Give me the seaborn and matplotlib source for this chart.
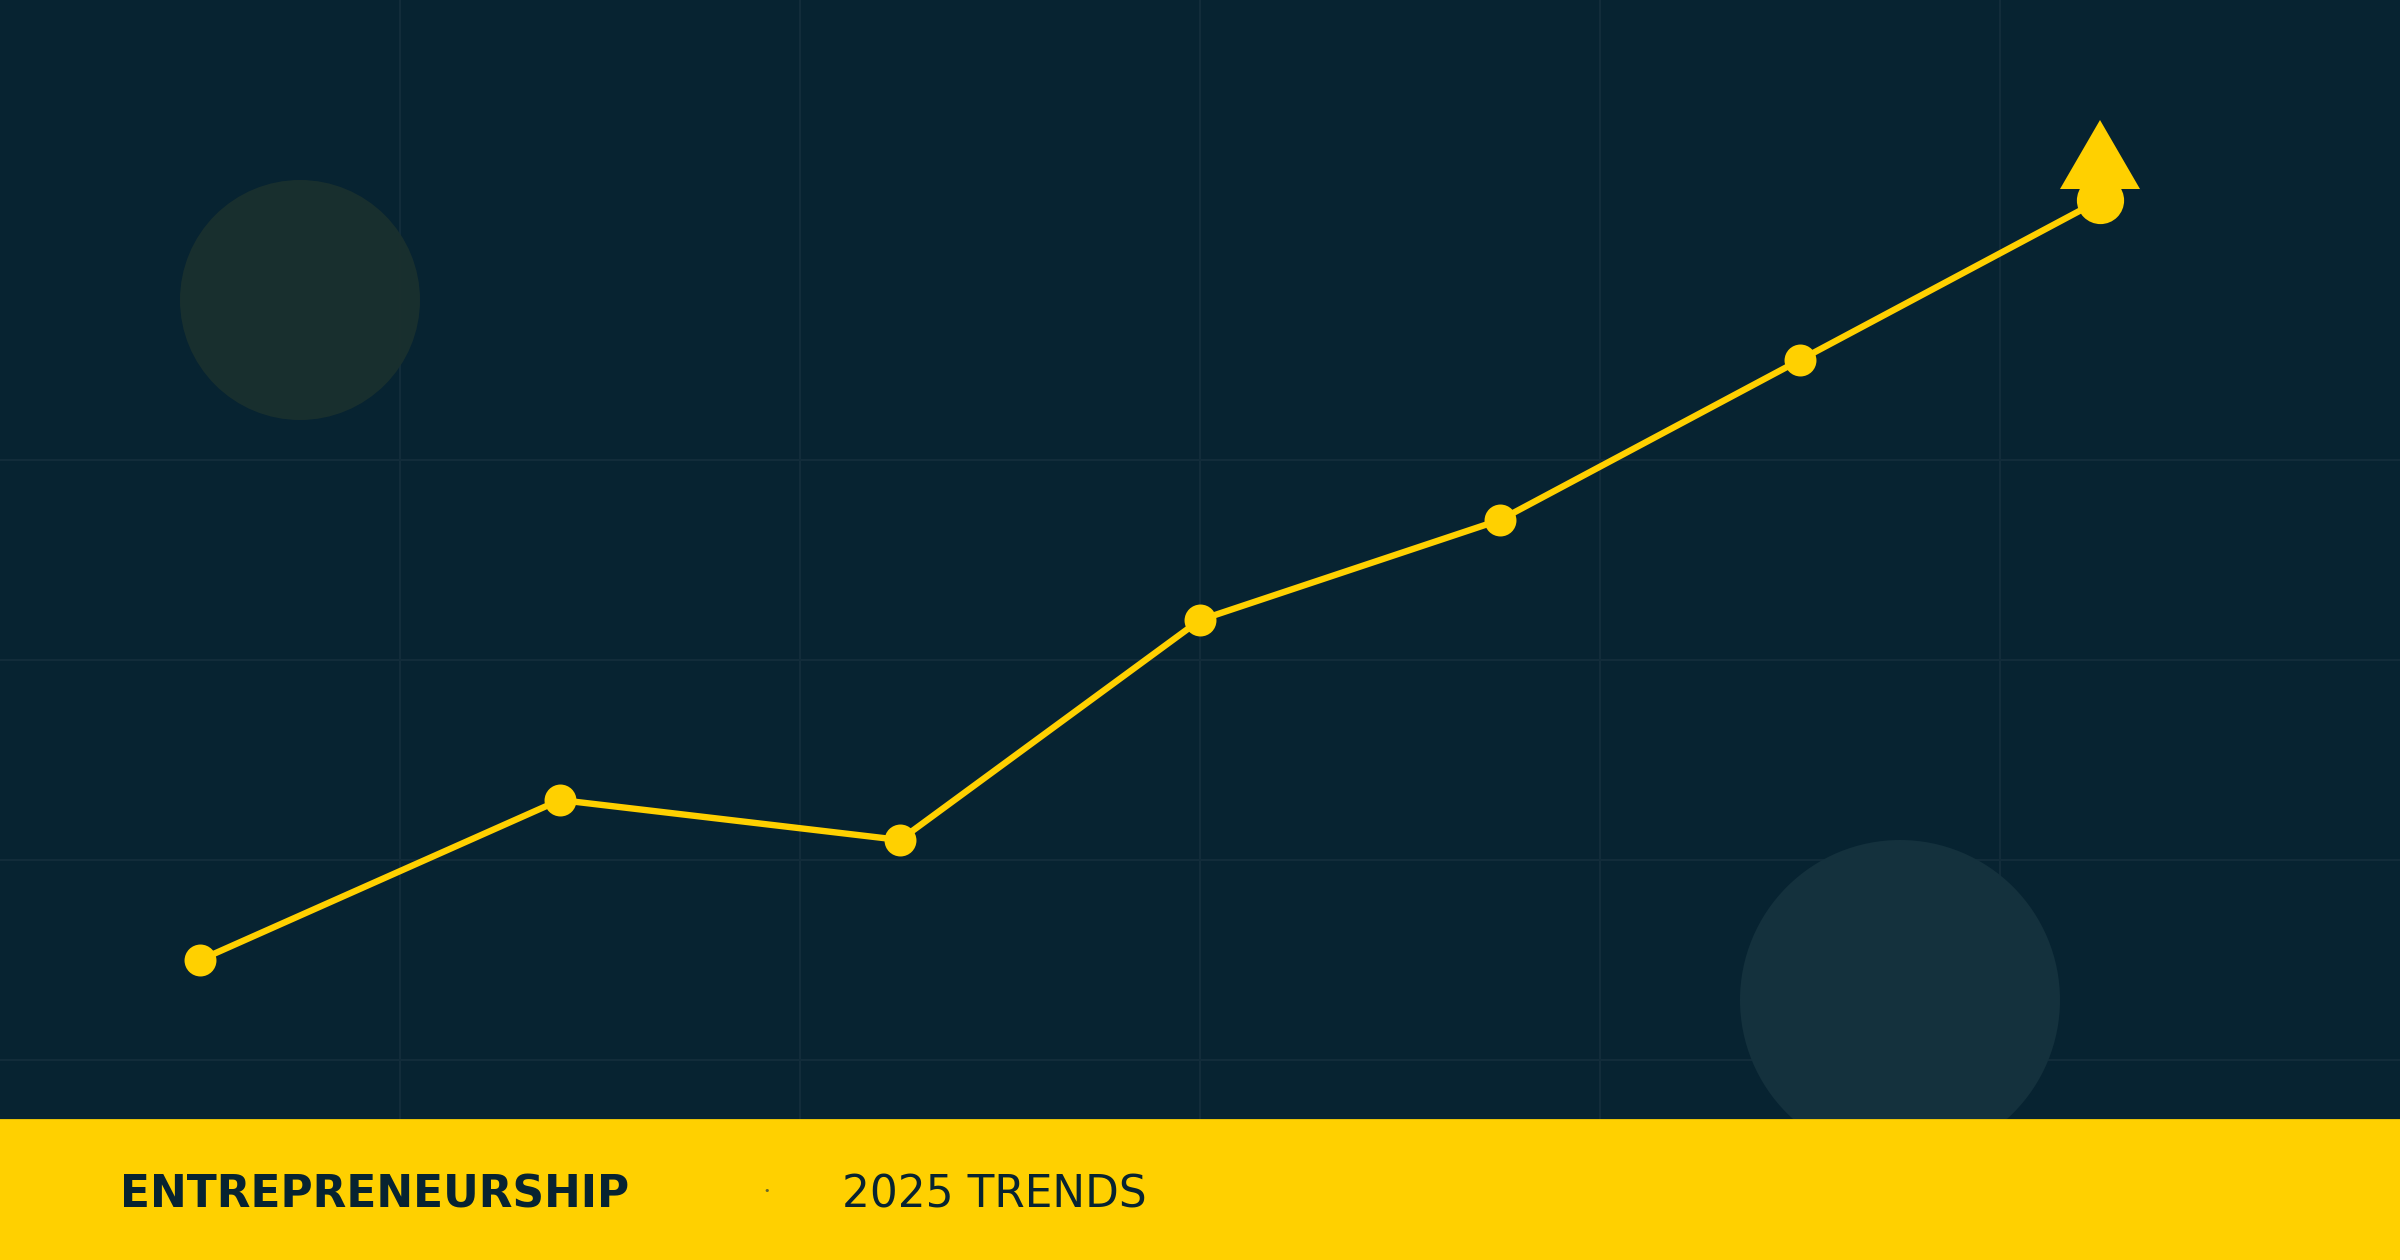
import numpy as np
import pandas as pd
import matplotlib
matplotlib.use('Agg')
import matplotlib.pyplot as plt
import seaborn as sns
from matplotlib.patches import Ellipse, Polygon

# Data (x in 100px units, y as growth index)
x_pos = [2.0, 5.6, 9.0, 12.0, 15.0, 18.0, 21.0]
growth = [30, 46, 42, 64, 74, 90, 106]
v_grid = [4, 8, 12, 16, 20]
h_grid = [20, 40, 60, 80]
brand_label = "ENTREPRENEURSHIP"
sub_label = "2025 TRENDS"

bg = '#072331'
gold = '#FFD000'
grid_col = '#122c3a'

sns.set_theme(style='dark')
plt.rcParams['font.family'] = ['DejaVu Sans']

fig = plt.figure(figsize=(12, 6.3), dpi=200)
fig.patch.set_facecolor(bg)
ax = fig.add_axes([0, 0, 1, 1])
ax.set_facecolor(bg)

band_top = 14

# grid
for gx in v_grid:
    ax.plot([gx, gx], [band_top, 126], color=grid_col, lw=0.75, zorder=1)
for gy in h_grid:
    ax.axhline(gy, color=grid_col, lw=0.75, zorder=1)

# decorative circles
ax.add_patch(Ellipse((3, 96), 2.4, 24, facecolor='#1a302e', edgecolor='none', alpha=0.93, zorder=2))
ax.add_patch(Ellipse((19, 26), 3.2, 32, facecolor='#14313d', edgecolor='none', zorder=2))

df = pd.DataFrame({'x': x_pos, 'y': growth})
sns.lineplot(data=df, x='x', y='y', ax=ax, color=gold, lw=2.3, marker='o',
             markersize=11.5, markeredgewidth=0, zorder=5)
ax.plot(x_pos[-1], growth[-1], 'o', color=gold, ms=17, mew=0, zorder=6)

# arrow head above last point
lx, ly = x_pos[-1], growth[-1]
ax.add_patch(Polygon([(lx - 0.4, ly + 1.1), (lx + 0.4, ly + 1.1), (lx, ly + 8.0)],
                     closed=True, facecolor=gold, edgecolor='none', zorder=7))

ax.set_xlim(0, 24)
ax.set_ylim(0, 126)
ax.axis('off')

# bottom band
ax.axhspan(0, band_top, color=gold, zorder=10)
ax.text(1.2, 5.3, brand_label, fontsize=15.8, fontweight='bold', color=bg,
        ha='left', va='baseline', zorder=11)
ax.text(7.67, 6.9, '•', fontsize=4, color='#6b6a2a',
        ha='center', va='center', zorder=11)
ax.text(8.42, 5.3, sub_label, fontsize=15.8, color=bg,
        ha='left', va='baseline', zorder=11)

fig.savefig('out.png', dpi=200, facecolor=bg)
